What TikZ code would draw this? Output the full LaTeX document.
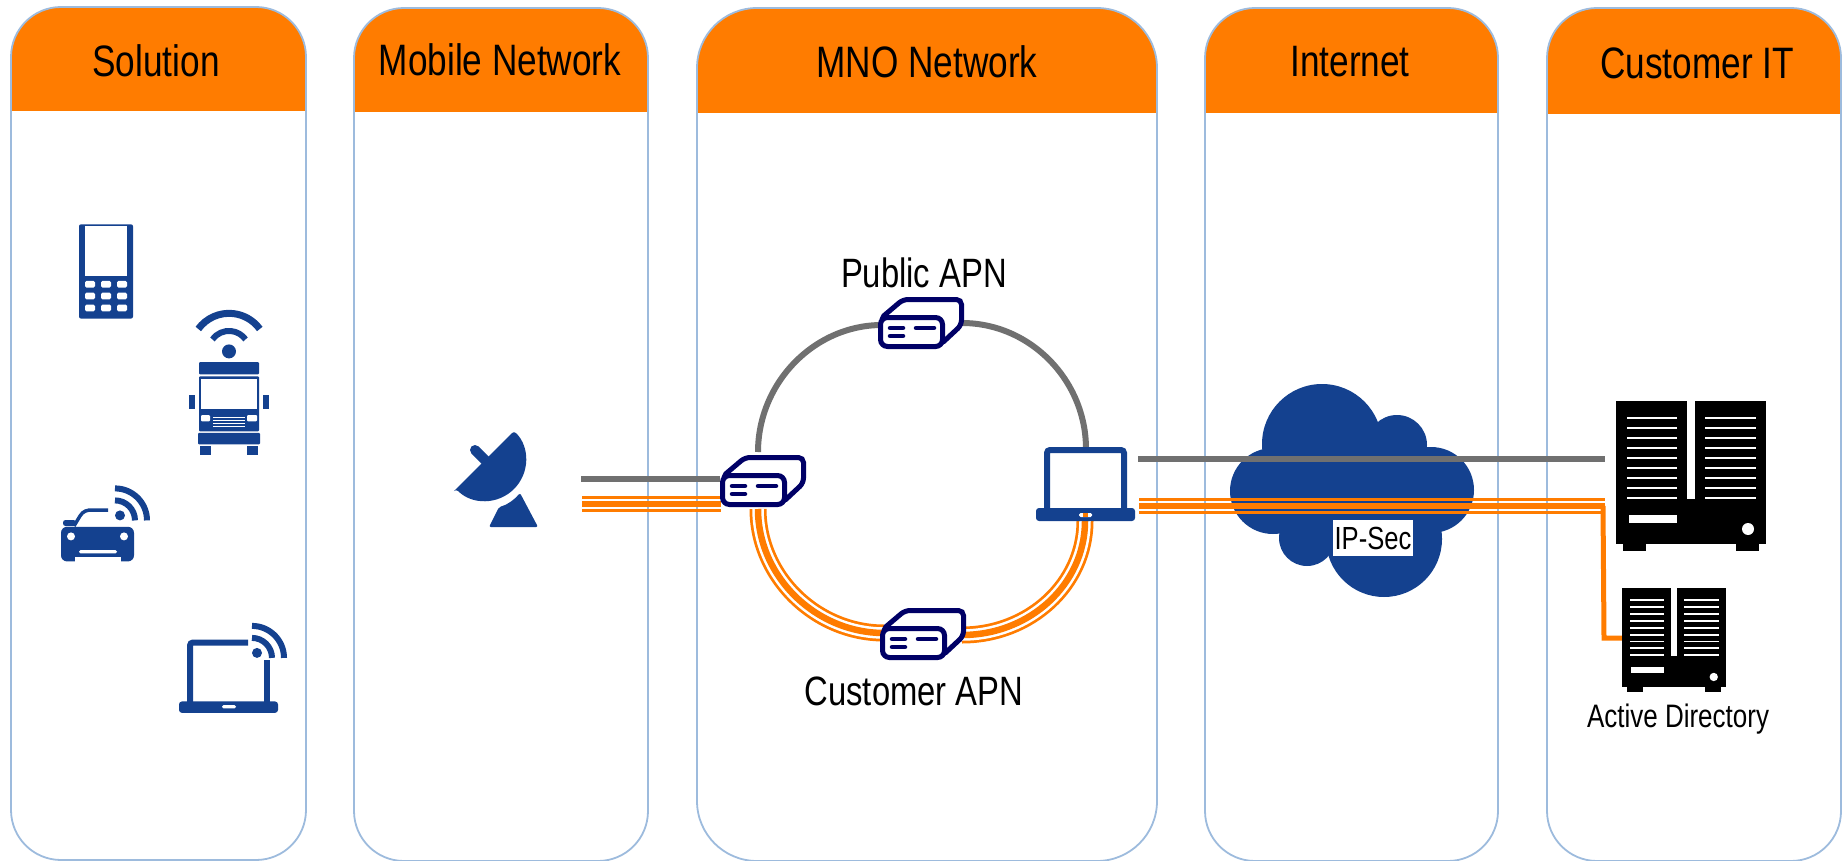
\documentclass[tikz,border=0pt]{standalone}
\usepackage{fontspec}
\setmainfont[FakeStretch=0.8]{Liberation Sans}
\definecolor{headorange}{HTML}{FF7C00}
\definecolor{panelblue}{HTML}{9DBBDD}
\definecolor{iconblue}{HTML}{14418F}
\definecolor{devnavy}{HTML}{000066}
\definecolor{linkgray}{HTML}{707070}
\tikzset{%
  panel/.style   = {shape=rectangle, draw=panelblue, line width=1.8pt, anchor=north west,%
                    inner sep=0pt, outer sep=0pt, minimum height=853pt},%
  head/.style    = {fill=headorange},%
  title/.style   = {font=\fontsize{44}{50}\selectfont},%
  apn/.style     = {font=\fontsize{41}{46}\selectfont},%
  icon/.style    = {fill=iconblue},%
  plain/.style   = {line width=6pt, draw=linkgray},%
  secure/.style  = {draw=headorange},%
  tunnel/.style  = {draw=headorange, line width=17pt,%
                    postaction={draw=white, line width=11.5pt},%
                    postaction={draw=headorange, line width=6.5pt}},%
  wifi/.pic = {%
    \fill[icon] (5,-5) circle[radius=5];
    \draw[iconblue, line width=6pt] (0,-20) arc[start angle=-90, end angle=0, radius=20];
    \draw[iconblue, line width=6pt] (0,-32) arc[start angle=-90, end angle=0, radius=32];
  },%
  apnbox/.pic = {%
    \draw[devnavy, line width=5pt, fill=white, rounded corners=5pt] (2,22) -- (25,2.5) -- (83.5,2.5) -- (83.5,28) -- (62,48) -- cycle;
    \draw[devnavy, line width=5pt, fill=white, rounded corners=7pt] (2.5,20.5) rectangle (64.5,49.5);
    \draw[devnavy, line width=4.5pt, line cap=round] (12,31) -- (25,31);
    \draw[devnavy, line width=4.5pt, line cap=round] (12,39) -- (25,39);
    \draw[devnavy, line width=4.5pt, line cap=round] (38,31) -- (56,31);
  },%
  server/.pic = {%
    \fill[black] (0,0) rectangle (150,143);
    \fill[black] (7,143) rectangle (30,150);
    \fill[black] (120,143) rectangle (143,150);
    \fill[white] (71,0) rectangle (79,98);
    \foreach \ypos in {17,27,37,47,57,67,77,87,97}{
      \fill[white] (11,\ypos-1.4) rectangle (61,\ypos+1.4);
      \fill[white] (89,\ypos-1.4) rectangle (140,\ypos+1.4);
    }
    \fill[white] (13,114) rectangle (61,122);
    \fill[white] (132,128) circle[radius=6];
  }%
}
\begin{document}
\begin{tikzpicture}[x=1pt,y=-1pt]
  \useasboundingbox (0,0) rectangle (1846,861);
  % headers
  \fill[head] (11,111) [rounded corners=50pt] -- (11,7) -- (306,7) [sharp corners] -- (306,111) -- cycle;
  \fill[head] (354,112) [rounded corners=50pt] -- (354,8) -- (648,8) [sharp corners] -- (648,112) -- cycle;
  \fill[head] (697,113) [rounded corners=60pt] -- (697,8) -- (1157,8) [sharp corners] -- (1157,113) -- cycle;
  \fill[head] (1205,113) [rounded corners=50pt] -- (1205,8) -- (1498,8) [sharp corners] -- (1498,113) -- cycle;
  \fill[head] (1547,114) [rounded corners=50pt] -- (1547,8) -- (1841,8) [sharp corners] -- (1841,114) -- cycle;
  % columns
  \node (solution) [panel, rounded corners=50pt, minimum width=295pt] at (11,7) {};
  \node (mobile) [panel, rounded corners=50pt, minimum width=294pt] at (354,8) {};
  \node (mno) [panel, rounded corners=60pt, minimum width=460pt] at (697,8) {};
  \node (internet) [panel, rounded corners=50pt, minimum width=293pt] at (1205,8) {};
  \node (customer) [panel, rounded corners=50pt, minimum width=294pt] at (1547,8) {};
  \node (solutionTitle) [title] at (156,61) {Solution};
  \node (mobileTitle) [title] at (500,60) {Mobile Network};
  \node (mnoTitle) [title] at (927,62) {MNO Network};
  \node (internetTitle) [title] at (1350,62) {Internet};
  \node (customerTitle) [title] at (1697,63) {Customer IT};

  % phone
  \fill[icon, rounded corners=2pt] (79,224.3) rectangle (133,318.6);
  \fill[white] (85,226.4) rectangle (127,275.7);
  \foreach \xpos in {90,106,122}{
    \foreach \ypos in {284.3,296,307.9}{
      \fill[white, rounded corners=1.5pt] (\xpos-5,\ypos-3.4) rectangle (\xpos+5,\ypos+3.4);
    }
  }
  % truck
  \fill[icon] (229,351.4) circle[radius=7];
  \draw[iconblue, line width=7pt] (198.3,329) arc[start angle=216, end angle=324, radius=38];
  \draw[iconblue, line width=6pt] (212.4,339.4) arc[start angle=216, end angle=324, radius=20.5];
  \fill[icon, rounded corners=1pt] (199,362.1) rectangle (259,374.3);
  \fill[icon, rounded corners=1pt] (199,376.4) rectangle (259,431.4);
  \fill[white] (200.8,379.3) rectangle (257.2,409.3);
  \fill[icon] (189,394.6) rectangle (195,408.6);
  \fill[icon] (263,394.6) rectangle (269,408.6);
  \fill[white, rounded corners=1pt] (201,415) rectangle (210,421.4);
  \fill[white, rounded corners=1pt] (247,415) rectangle (257,421.4);
  \foreach \ypos in {417.1,420.4,423.6,426.8}{
    \fill[white] (213,\ypos-.6) rectangle (245,\ypos+.6);
  }
  \fill[icon, rounded corners=1pt] (198,432.9) rectangle (260,444.3);
  \fill[icon] (200,445.7) rectangle (211,455);
  \fill[icon] (247,445.7) rectangle (258,455);
  % car
  \fill[icon, rounded corners=6pt] (61,526.8) rectangle (134,561.4);
  \fill[white] (75,557) rectangle (121,562);
  \fill[white] (71,536.4) circle[radius=4];
  \fill[white] (124,536.4) circle[radius=4];
  \fill[white, rounded corners=1.5pt] (79,550.2) rectangle (117,553.4);
  \fill[icon, rounded corners=2.5pt] (63,520) rectangle (76,526);
  \draw[iconblue, line width=3.5pt] (74,526) -- (80,516) .. controls (83,511) and (87,510) .. (92,510) -- (108,510);
  \pic at (115,520.4) {wifi};
  % laptop with wifi
  \draw[iconblue, line width=6pt, rounded corners=3pt] (248,642.5) -- (190,642.5) -- (190,703);
  \draw[iconblue, line width=6pt] (267,660) -- (267,703);
  \fill[icon, rounded corners=3pt] (179,701.4) rectangle (278,712.9);
  \fill[white, rounded corners=1.5pt] (222,705.2) rectangle (236,708.4);
  \pic at (252,657.9) {wifi};
  % dish
  \fill[icon, rounded corners=3pt] (456,489) -- (514,431) arc[start angle=-45, end angle=135, radius=41] -- cycle;
  \draw[iconblue, line width=10pt, line cap=round] (475,450) -- (488,463);
  \fill[icon, rounded corners=2pt] (499,507) .. controls (507,505) and (514,500) .. (520,493) -- (538,527) -- (489,527) -- cycle;

  % cloud
  \fill[icon] (1322,444) circle[radius=60];
  \fill[icon] (1397,445) circle[radius=30];
  \fill[icon] (1273,491) circle[radius=43];
  \fill[icon] (1431,490) circle[radius=43];
  \fill[icon] (1307,538) circle[radius=28];
  \fill[icon] (1384,539) circle[radius=58];
  \fill[icon] (1350,490) circle[radius=50];

  % link ends
  \coordinate (dishGray) at (581,479);
  \coordinate (gateGray) at (720,479);
  \coordinate (dishSec) at (582,504);
  \coordinate (gateSec) at (721,504);
  \coordinate (gateTop) at (758,452);
  \coordinate (gateBottom) at (758,509);
  \coordinate (publicLeft) at (882,325);
  \coordinate (publicRight) at (962,323);
  \coordinate (customerLeft) at (884,633);
  \coordinate (customerRight) at (962,635);
  \coordinate (edgeTop) at (1086,449);
  \coordinate (edgeBottom) at (1085,521);
  \coordinate (edgeGray) at (1138,459);
  \coordinate (hostGray) at (1605,459);
  \coordinate (edgeSec) at (1139,506);
  \coordinate (hostSec) at (1605,506);
  \coordinate (branchTop) at (1603,506);
  \coordinate (branchBend) at (1604,638);
  \coordinate (directoryIn) at (1623,638);

  \draw[plain] (dishGray) -- (gateGray);
  \draw[plain] (edgeGray) -- (hostGray);
  \draw[plain] (gateTop) .. controls +(0,-69) and +(-68,0) .. (publicLeft);
  \draw[plain] (publicRight) .. controls +(68,0) and +(0,-69) .. (edgeTop);
  \draw[tunnel] (gateBottom) .. controls +(0,68) and +(-68,0) .. (customerLeft);
  \draw[tunnel] (edgeBottom) .. controls +(0,63) and +(68,0) .. (customerRight);
  % three wires so the cloud shows between them
  \draw[secure, line width=5.8pt] (dishSec) -- (gateSec);
  \draw[secure, line width=2.6pt] ([yshift=6.7pt]dishSec) -- ([yshift=6.7pt]gateSec);
  \draw[secure, line width=2.6pt] ([yshift=-6.7pt]dishSec) -- ([yshift=-6.7pt]gateSec);
  \draw[secure, line width=5.8pt] (edgeSec) -- (hostSec);
  \draw[secure, line width=2.6pt] ([yshift=6.7pt]edgeSec) -- ([yshift=6.7pt]hostSec);
  \draw[secure, line width=2.6pt] ([yshift=-6.7pt]edgeSec) -- ([yshift=-6.7pt]hostSec);
  \draw[secure, line width=5pt] (branchTop) -- (branchBend) -- (directoryIn);

  % devices on the ring
  \pic at (720,455) {apnbox};
  \pic at (878,297) {apnbox};
  \pic at (880,608) {apnbox};
  % laptop on the ring
  \draw[iconblue, line width=6pt, rounded corners=3pt, fill=white] (1047,510) -- (1047,450) -- (1124,450) -- (1124,510);
  \fill[icon, rounded corners=3pt] (1036,508) rectangle (1135,521);
  \fill[white, rounded corners=1.5pt] (1079,513) rectangle (1092,517);
  \fill[headorange] (1083,513) rectangle (1088,517);
  % servers
  \pic at (1616,401) {server};
  \pic[scale=.695] at (1622,588) {server};

  \node (publicApn) [apn] at (924,273) {Public APN};
  \node (customerApn) [apn] at (914,691) {Customer APN};
  \node (ipsec) [fill=white, inner sep=0pt, minimum width=80pt, minimum height=36pt, font=\fontsize{32}{36}\selectfont] at (1373,538) {IP-Sec};
  \node (directory) [font=\fontsize{32.5}{36}\selectfont] at (1678,719) {Active Directory};
\end{tikzpicture}
\end{document}
